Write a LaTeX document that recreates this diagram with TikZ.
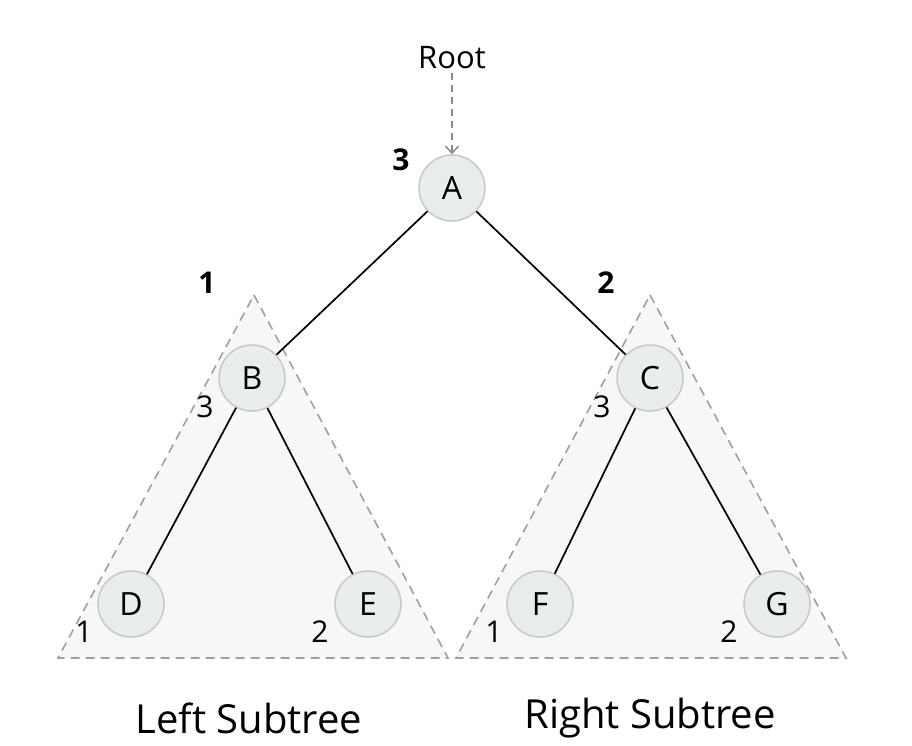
\documentclass[tikz,border=0pt]{standalone}
\usepackage{fontspec}
\setmainfont{Open Sans}
\usepackage{color}
\definecolor{nodefill}{RGB}{233,237,238}
\definecolor{nodeline}{RGB}{200,200,200}
\definecolor{treefill}{RGB}{247,247,247}
\definecolor{treeline}{RGB}{160,160,160}
\definecolor{rootline}{RGB}{140,140,140}
\usepackage{tikz}
\usetikzlibrary{arrows.meta}
\newcommand{\sizenode}{66pt}
\tikzset{
    vertex/.style={draw=nodeline, fill=nodefill, circle, line width=1.5pt, minimum size=\sizenode, inner sep=0pt, font=\fontsize{32}{34}\selectfont},
    edge/.style={line width=1.7pt, black},
    subtree/.style={draw=treeline, fill=treefill, dashed, dash pattern=on 9pt off 6pt, line width=1.6pt},
    count/.style={font=\fontsize{30}{32}\selectfont},
    bigcount/.style={font=\bfseries\fontsize{30}{32}\selectfont},
    caption/.style={font=\fontsize{40}{44}\selectfont}
}

\begin{document}
\begin{tikzpicture}[x=1pt, y=-1pt]
                \useasboundingbox (0,0) rectangle (912,746);

                % subtrees
                \path[subtree] (254,295) -- (448,658) -- (58,658) -- cycle;
                \path[subtree] (650,295) -- (846,658) -- (456,658) -- cycle;

                \node[vertex] (a) at (452,188) {A};
                \node[vertex] (b) at (252,378) {B};
                \node[vertex] (c) at (650,378) {C};
                \node[vertex] (d) at (131,604) {D};
                \node[vertex] (e) at (368,604) {E};
                \node[vertex] (f) at (540,604) {F};
                \node[vertex] (g) at (777,604) {G};

                \draw[edge] (a) -- (b) -- (d);
                \draw[edge] (b) -- (e);
                \draw[edge] (a) -- (c) -- (f);
                \draw[edge] (c) -- (g);

                \node[font=\fontsize{31}{33}\selectfont] (root) at (452,58) {Root};
                \draw[->, >={Straight Barb[length=7pt, width=13pt]}, rootline, line width=1.5pt, dash pattern=on 7pt off 5pt] (root) -- (a);

                \node[bigcount] (a-n) at (401,160) {3};
                \node[bigcount] (b-n) at (207,283) {1};
                \node[bigcount] (c-n) at (606,283) {2};
                \node[count] (b-l) at (205,407) {3};
                \node[count] (c-l) at (602,407) {3};
                \node[count] (d-l) at (84,632) {1};
                \node[count] (e-l) at (320,632) {2};
                \node[count] (f-l) at (494,632) {1};
                \node[count] (g-l) at (729,632) {2};

                \node[caption] (left) at (249,718) {Left Subtree};
                \node[caption] (right) at (650,718) {Right Subtree};
            \end{tikzpicture}
\end{document}
